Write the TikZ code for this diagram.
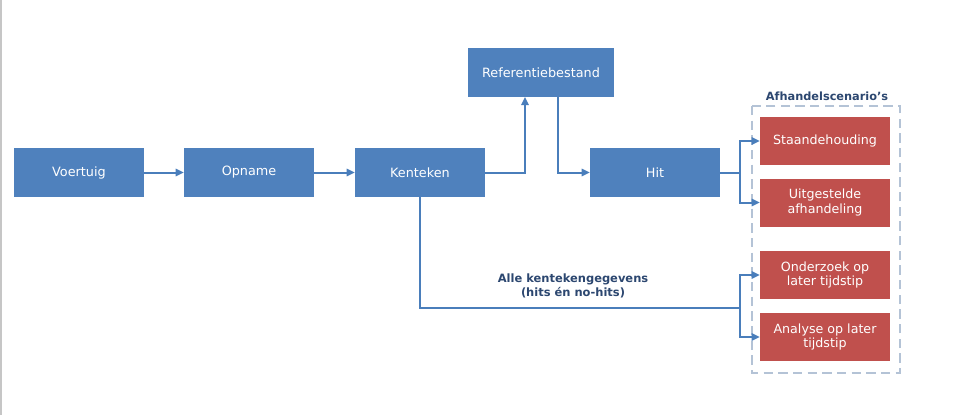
\documentclass[tikz,border=0pt]{standalone}
\usepackage{fontspec}
\setmainfont{DejaVu Sans}
\usetikzlibrary{arrows.meta}
\definecolor{boxblue}{HTML}{4F81BD}
\definecolor{boxred}{HTML}{C0504D}
\definecolor{lineblue}{HTML}{4A7EBB}
\definecolor{dashgray}{HTML}{B4C3D6}
\definecolor{labeldark}{HTML}{2C4770}
\tikzset{
  bluebox/.style={fill=boxblue, draw=none, text=white, minimum width=97.5pt, minimum height=36.75pt, inner sep=0pt, font=\fontsize{9.6}{11}\selectfont, align=center},
  redbox/.style={fill=boxred, draw=none, text=white, minimum width=97.5pt, minimum height=36pt, inner sep=0pt, font=\fontsize{9.5}{11.2}\selectfont, align=center},
  conn/.style={draw=lineblue, line width=1.5pt, -{Triangle[length=6pt,width=5.5pt]}},
  plain/.style={draw=lineblue, line width=1.5pt},
}
\begin{document}
\begin{tikzpicture}[x=0.75pt,y=-0.75pt]
\useasboundingbox (0,0) rectangle (953,415);
\fill[white] (0,0) rectangle (953,415);
\draw[gray!45, line width=1.2pt] (1,0) -- (1,415);

\node[bluebox] (voertuig) at (79,172.5) {\raisebox{-1pt}{Voertuig}};
\node[bluebox] (opname) at (249,172.5) {\raisebox{-1pt}{Opname}};
\node[bluebox] (kenteken) at (420,172.5) {Kenteken};
\node[bluebox, minimum width=109.5pt] (ref) at (541,72.5) {Referentiebestand};
\node[bluebox] (hit) at (655,172.5) {Hit};

\node[redbox] (staan) at (825,141) {\raisebox{-1pt}{Staandehouding}};
\node[redbox] (uitg) at (825,202.5) {Uitgestelde\\afhandeling};
\node[redbox] (onder) at (825,275) {Onderzoek op\\later tijdstip};
\node[redbox] (analyse) at (825,337) {Analyse op later\\tijdstip};

\draw[dashgray, line width=1.3pt, dash pattern=on 7pt off 4pt] (752,106) rectangle (900,373);
\node[font=\bfseries\fontsize{8.5}{10}\selectfont, text=labeldark] (afh) at (827,96.5) {Afhandelscenario’s};

\coordinate (j1) at (740,172.5);
\coordinate (j2) at (740,308);

\draw[conn] (voertuig) -- (opname);
\draw[conn] (opname) -- (kenteken);
\draw[conn] (kenteken.east) -- (525,172.5) -- (525,97);
\draw[conn] (558,97) -- (558,172.5) -- (hit.west);
\draw[plain] (hit.east) -- (j1);
\draw[conn] (j1) |- (staan.west);
\draw[conn] (j1) |- (uitg.west);
\draw[plain] (kenteken.south) |- (j2);
\draw[conn] (j2) |- (onder.west);
\draw[conn] (j2) |- (analyse.west);

\node[font=\bfseries\fontsize{8.6}{10.5}\selectfont, text=labeldark, align=center] (alle) at (573,286) {Alle kentekengegevens\\(hits én no-hits)};
\end{tikzpicture}
\end{document}
